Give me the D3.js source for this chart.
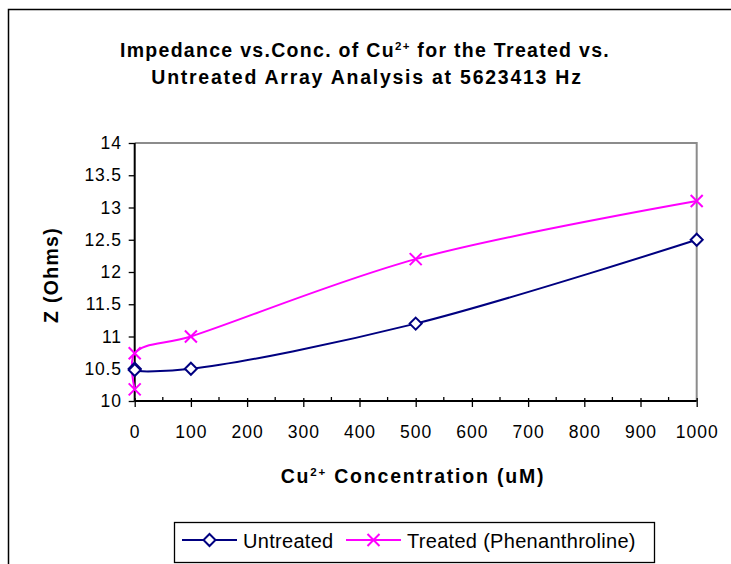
<!DOCTYPE html>
<html>
<head>
<meta charset="utf-8">
<script src="https://cdn.jsdelivr.net/npm/d3@7"></script>
<style>
  body { margin: 0; background: #fff; }
  svg { display: block; font-family: "Liberation Sans", Arial, sans-serif; }
</style>
</head>
<body>
<svg id="chart" width="731" height="564"></svg>
<script>
// Copper concentration (uM) for each measurement
const concentration = [0, 0, 100, 500, 1000];
// Impedance (Ohms) at 5623413 Hz
const untreated = [10.5, 10.48, 10.5, 11.2, 12.5];
const treated = [10.18, 10.74, 11.0, 12.2, 13.1];
const xTicks = [0, 100, 200, 300, 400, 500, 600, 700, 800, 900, 1000];
const xMinorTicks = [50, 150, 250, 350, 450, 550, 650, 750, 850, 950];
const yTicks = [10, 10.5, 11, 11.5, 12, 12.5, 13, 13.5, 14];
const seriesNames = ["Untreated", "Treated (Phenanthroline)"];

const svg = d3.select("#chart");

// chart frame
svg.append("rect")
  .attr("x", 8.5).attr("y", 9.5)
  .attr("width", 740).attr("height", 570)
  .attr("fill", "#fff").attr("stroke", "#000").attr("stroke-width", 1.5);

const plot = { left: 134.7, right: 696.7, top: 143, bottom: 401 };

const x = d3.scaleLinear().domain([0, 1000]).range([plot.left, plot.right]);
const y = d3.scaleLinear().domain([10, 14]).range([plot.bottom, plot.top]);

// plot area border (top & right)
svg.append("path")
  .attr("d", `M${plot.left},${plot.top}H${plot.right}V${plot.bottom}`)
  .attr("fill", "none").attr("stroke", "#8c8c8c").attr("stroke-width", 2);

// title
const title = svg.append("text")
  .attr("text-anchor", "middle")
  .attr("font-weight", "bold").attr("font-size", 19.5)
  .attr("fill", "#000");
const t1 = title.append("tspan").attr("x", 365).attr("y", 57).attr("letter-spacing", 1.3);
t1.append("tspan").text("Impedance vs.Conc. of Cu");
t1.append("tspan").attr("font-size", 11.5).attr("dy", -7).text("2+");
t1.append("tspan").attr("dy", 7).text(" for the Treated vs.");
title.append("tspan").attr("x", 367).attr("y", 83.5).attr("letter-spacing", 1.75)
  .text("Untreated Array Analysis at 5623413 Hz");

// y axis
const yAxis = d3.axisLeft(y).tickValues(yTicks).tickSize(6).tickPadding(7)
  .tickFormat(d3.format("~g"));
const gy = svg.append("g").attr("transform", `translate(${plot.left},0)`).call(yAxis);
gy.select(".domain").attr("stroke", "#000").attr("stroke-width", 2).attr("d", `M0,${plot.bottom}V${plot.top}`);
gy.selectAll(".tick line").attr("stroke", "#000").attr("stroke-width", 1.3);
gy.selectAll(".tick text").attr("font-size", 17.5).attr("letter-spacing", 0.8)
  .attr("font-family", "Liberation Sans, Arial, sans-serif").attr("fill", "#000");

// x axis: major ticks cross the axis, minor ticks inside
const xAxis = d3.axisBottom(x).tickValues(xTicks).tickSize(6).tickPadding(19)
  .tickFormat(d3.format("d"));
const gx = svg.append("g").attr("transform", `translate(0,${plot.bottom})`).call(xAxis);
gx.select(".domain").attr("stroke", "#000").attr("stroke-width", 2).attr("d", `M${plot.left},0H${plot.right}`);
gx.selectAll(".tick line").attr("y1", -3).attr("stroke", "#000").attr("stroke-width", 1.3);
gx.selectAll(".tick text").attr("font-size", 17.5).attr("letter-spacing", 1)
  .attr("font-family", "Liberation Sans, Arial, sans-serif").attr("fill", "#000");
gx.selectAll(".minor").data(xMinorTicks).enter().append("line")
  .attr("class", "minor")
  .attr("x1", d => x(d)).attr("x2", d => x(d))
  .attr("y1", -4).attr("y2", 0)
  .attr("stroke", "#000").attr("stroke-width", 1.3);

// axis titles
const xt = svg.append("text")
  .attr("x", 413).attr("y", 483)
  .attr("text-anchor", "middle").attr("font-weight", "bold").attr("font-size", 19.5)
  .attr("letter-spacing", 1.8);
xt.append("tspan").text("Cu");
xt.append("tspan").attr("font-size", 11.5).attr("dy", -7).text("2+");
xt.append("tspan").attr("dy", 7).text(" Concentration (uM)");

svg.append("text")
  .attr("transform", "translate(58,275) rotate(-90)")
  .attr("text-anchor", "middle").attr("font-weight", "bold").attr("font-size", 19.5)
  .attr("letter-spacing", 1.3)
  .text("Z (Ohms)");

// series
const curve = d3.curveCatmullRom.alpha(0.5);
const line = d3.line().x(d => x(d[0])).y(d => y(d[1])).curve(curve);
const untreatedPts = concentration.map((c, i) => [c, untreated[i]]);
const treatedPts = concentration.map((c, i) => [c, treated[i]]);

const navy = "#000080", magenta = "#ff00ff";

function diamond(g, cx, cy) {
  const s = 6;
  g.append("path")
    .attr("d", `M${cx},${cy - s}L${cx + s},${cy}L${cx},${cy + s}L${cx - s},${cy}Z`)
    .attr("fill", "#fff").attr("stroke", navy).attr("stroke-width", 2);
}
function cross(g, cx, cy) {
  const s = 6;
  g.append("path")
    .attr("d", `M${cx - s},${cy - s}L${cx + s},${cy + s}M${cx - s},${cy + s}L${cx + s},${cy - s}`)
    .attr("fill", "none").attr("stroke", magenta).attr("stroke-width", 2);
}

svg.append("path").datum(untreatedPts).attr("d", line)
  .attr("fill", "none").attr("stroke", navy).attr("stroke-width", 2);
svg.append("path").datum(treatedPts).attr("d", line)
  .attr("fill", "none").attr("stroke", magenta).attr("stroke-width", 2);

const um = svg.append("g");
untreatedPts.forEach(p => diamond(um, x(p[0]), y(p[1])));
const tm = svg.append("g");
treatedPts.forEach(p => cross(tm, x(p[0]), y(p[1])));

// legend
const lg = svg.append("g");
lg.append("rect").attr("x", 174.5).attr("y", 522.5).attr("width", 480).attr("height", 40)
  .attr("fill", "#fff").attr("stroke", "#000").attr("stroke-width", 1.3);
lg.append("line").attr("x1", 182).attr("x2", 237).attr("y1", 540).attr("y2", 540)
  .attr("stroke", navy).attr("stroke-width", 2);
diamond(lg, 209.5, 540);
lg.append("text").attr("x", 243).attr("y", 547.5).attr("font-size", 20).attr("letter-spacing", 0.3)
  .text(seriesNames[0]);
lg.append("line").attr("x1", 346).attr("x2", 401).attr("y1", 540).attr("y2", 540)
  .attr("stroke", magenta).attr("stroke-width", 2);
cross(lg, 373.5, 540);
lg.append("text").attr("x", 407).attr("y", 547.5).attr("font-size", 20).attr("letter-spacing", 0.3)
  .text(seriesNames[1]);
</script>
</body>
</html>
